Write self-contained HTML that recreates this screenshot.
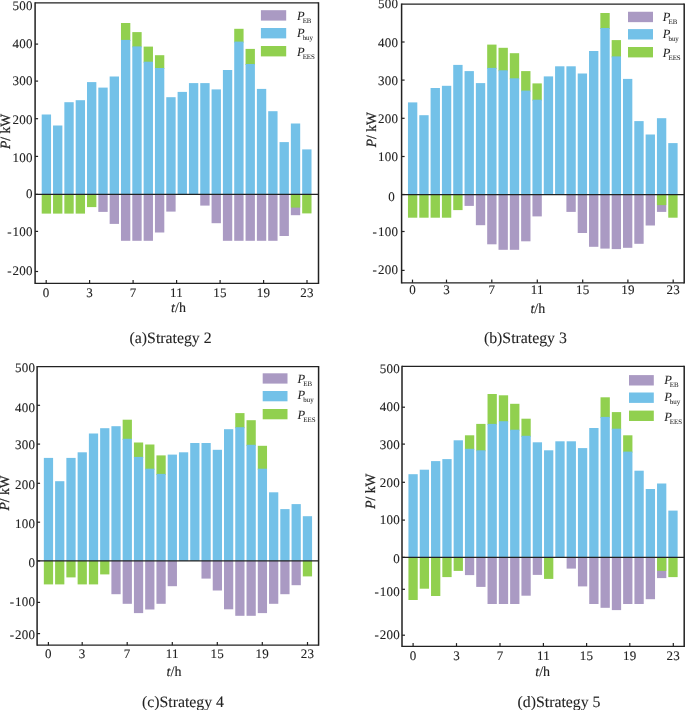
<!DOCTYPE html>
<html lang="en"><head><meta charset="utf-8"><title>Strategies 2-5 power balance</title>
<style>
html,body{margin:0;padding:0;background:#fff;}
body{width:685px;height:710px;overflow:hidden;}
svg{display:block;}
text{font-family:"Liberation Serif",serif;fill:#222;text-rendering:geometricPrecision;stroke:#222;stroke-width:0.1px;}
.tk{font-size:13px;letter-spacing:0.25px;}
.yl{font-size:13.6px;stroke-width:0.25px;}
.xl{font-size:14px;}
.cap{font-size:15.8px;stroke-width:0.08px;}
.lg{font-size:12.5px;stroke-width:0.05px;}
.sub{font-size:6.9px;}
</style></head><body>
<svg width="685" height="710" viewBox="0 0 685 710">
<rect x="0" y="0" width="685" height="710" fill="#fff"/>
<g class="chart-a">
<rect x="41.7" y="114.5" width="9.35" height="79.9" fill="#73c1e8"/>
<rect x="41.7" y="194.4" width="9.35" height="19.2" fill="#91d04f"/>
<rect x="53.03" y="125.5" width="9.35" height="68.9" fill="#73c1e8"/>
<rect x="53.03" y="194.4" width="9.35" height="19.2" fill="#91d04f"/>
<rect x="64.35" y="102.2" width="9.35" height="92.2" fill="#73c1e8"/>
<rect x="64.35" y="194.4" width="9.35" height="19.2" fill="#91d04f"/>
<rect x="75.67" y="100.2" width="9.35" height="94.2" fill="#73c1e8"/>
<rect x="75.67" y="194.4" width="9.35" height="19.2" fill="#91d04f"/>
<rect x="87" y="82.1" width="9.35" height="112.3" fill="#73c1e8"/>
<rect x="87" y="194.4" width="9.35" height="12.7" fill="#91d04f"/>
<rect x="98.33" y="87.6" width="9.35" height="106.8" fill="#73c1e8"/>
<rect x="98.33" y="194.4" width="9.35" height="17.5" fill="#aa9ac3"/>
<rect x="109.65" y="76.5" width="9.35" height="117.9" fill="#73c1e8"/>
<rect x="109.65" y="194.4" width="9.35" height="29.5" fill="#aa9ac3"/>
<rect x="120.97" y="23" width="9.35" height="17.9" fill="#91d04f"/>
<rect x="120.97" y="39.9" width="9.35" height="154.5" fill="#73c1e8"/>
<rect x="120.97" y="194.4" width="9.35" height="46.4" fill="#aa9ac3"/>
<rect x="132.3" y="32.1" width="9.35" height="15.3" fill="#91d04f"/>
<rect x="132.3" y="46.4" width="9.35" height="148" fill="#73c1e8"/>
<rect x="132.3" y="194.4" width="9.35" height="46.4" fill="#aa9ac3"/>
<rect x="143.62" y="46.6" width="9.35" height="16.1" fill="#91d04f"/>
<rect x="143.62" y="61.7" width="9.35" height="132.7" fill="#73c1e8"/>
<rect x="143.62" y="194.4" width="9.35" height="46.4" fill="#aa9ac3"/>
<rect x="154.95" y="55.2" width="9.35" height="13.8" fill="#91d04f"/>
<rect x="154.95" y="68" width="9.35" height="126.4" fill="#73c1e8"/>
<rect x="154.95" y="194.4" width="9.35" height="38.1" fill="#aa9ac3"/>
<rect x="166.27" y="97.2" width="9.35" height="97.2" fill="#73c1e8"/>
<rect x="166.27" y="194.4" width="9.35" height="17.2" fill="#aa9ac3"/>
<rect x="177.6" y="91.9" width="9.35" height="102.5" fill="#73c1e8"/>
<rect x="188.93" y="83.1" width="9.35" height="111.3" fill="#73c1e8"/>
<rect x="200.25" y="83.1" width="9.35" height="111.3" fill="#73c1e8"/>
<rect x="200.25" y="194.4" width="9.35" height="11.2" fill="#aa9ac3"/>
<rect x="211.57" y="89.4" width="9.35" height="105" fill="#73c1e8"/>
<rect x="211.57" y="194.4" width="9.35" height="28.8" fill="#aa9ac3"/>
<rect x="222.9" y="70" width="9.35" height="124.4" fill="#73c1e8"/>
<rect x="222.9" y="194.4" width="9.35" height="46.4" fill="#aa9ac3"/>
<rect x="234.22" y="28.8" width="9.35" height="13.8" fill="#91d04f"/>
<rect x="234.22" y="41.6" width="9.35" height="152.8" fill="#73c1e8"/>
<rect x="234.22" y="194.4" width="9.35" height="46.4" fill="#aa9ac3"/>
<rect x="245.55" y="48.9" width="9.35" height="16.1" fill="#91d04f"/>
<rect x="245.55" y="64" width="9.35" height="130.4" fill="#73c1e8"/>
<rect x="245.55" y="194.4" width="9.35" height="46.4" fill="#aa9ac3"/>
<rect x="256.88" y="88.9" width="9.35" height="105.5" fill="#73c1e8"/>
<rect x="256.88" y="194.4" width="9.35" height="46.4" fill="#aa9ac3"/>
<rect x="268.2" y="111.2" width="9.35" height="83.2" fill="#73c1e8"/>
<rect x="268.2" y="194.4" width="9.35" height="46.4" fill="#aa9ac3"/>
<rect x="279.52" y="142.1" width="9.35" height="52.3" fill="#73c1e8"/>
<rect x="279.52" y="194.4" width="9.35" height="41.6" fill="#aa9ac3"/>
<rect x="290.85" y="123.5" width="9.35" height="70.9" fill="#73c1e8"/>
<rect x="290.85" y="194.4" width="9.35" height="20.8" fill="#aa9ac3"/>
<rect x="290.85" y="194.4" width="9.35" height="13.2" fill="#91d04f"/>
<rect x="302.17" y="149.4" width="9.35" height="45" fill="#73c1e8"/>
<rect x="302.17" y="194.4" width="9.35" height="19" fill="#91d04f"/>
<path d="M35.1 2.17V283.93M318.5 2.17V283.93" fill="none" stroke="#222" stroke-width="1.5"/>
<path d="M35.1 2.8H318.5M35.1 283.3H318.5M35.1 194.4H318.5" fill="none" stroke="#222" stroke-width="1.25"/>
<line x1="35.1" y1="44.1" x2="38.1" y2="44.1" stroke="#222" stroke-width="1.2"/>
<line x1="35.1" y1="81.1" x2="38.1" y2="81.1" stroke="#222" stroke-width="1.2"/>
<line x1="35.1" y1="118.7" x2="38.1" y2="118.7" stroke="#222" stroke-width="1.2"/>
<line x1="35.1" y1="156.4" x2="38.1" y2="156.4" stroke="#222" stroke-width="1.2"/>
<line x1="35.1" y1="194.4" x2="38.1" y2="194.4" stroke="#222" stroke-width="1.2"/>
<line x1="35.1" y1="231.4" x2="38.1" y2="231.4" stroke="#222" stroke-width="1.2"/>
<line x1="35.1" y1="271.5" x2="38.1" y2="271.5" stroke="#222" stroke-width="1.2"/>
<text class="tk" x="32.85" y="9.7" text-anchor="end">500</text>
<text class="tk" x="32.85" y="47.6" text-anchor="end">400</text>
<text class="tk" x="32.85" y="85.2" text-anchor="end">300</text>
<text class="tk" x="32.85" y="123.8" text-anchor="end">200</text>
<text class="tk" x="32.85" y="161.8" text-anchor="end">100</text>
<text class="tk" x="32.85" y="198.4" text-anchor="end">0</text>
<text class="tk" x="32.85" y="235.8" text-anchor="end">-<tspan dx="0.7">100</tspan></text>
<text class="tk" x="32.85" y="275.3" text-anchor="end">-<tspan dx="0.7">200</tspan></text>
<line x1="46.2" y1="283.3" x2="46.2" y2="280.1" stroke="#222" stroke-width="1.2"/>
<text class="tk" x="46.2" y="296.5" text-anchor="middle">0</text>
<line x1="89.6" y1="283.3" x2="89.6" y2="280.1" stroke="#222" stroke-width="1.2"/>
<text class="tk" x="89.6" y="296.5" text-anchor="middle">3</text>
<line x1="133.1" y1="283.3" x2="133.1" y2="280.1" stroke="#222" stroke-width="1.2"/>
<text class="tk" x="133.1" y="296.5" text-anchor="middle">7</text>
<line x1="176.6" y1="283.3" x2="176.6" y2="280.1" stroke="#222" stroke-width="1.2"/>
<text class="tk" x="176.6" y="296.5" text-anchor="middle">11</text>
<line x1="220.1" y1="283.3" x2="220.1" y2="280.1" stroke="#222" stroke-width="1.2"/>
<text class="tk" x="220.1" y="296.5" text-anchor="middle">15</text>
<line x1="263.6" y1="283.3" x2="263.6" y2="280.1" stroke="#222" stroke-width="1.2"/>
<text class="tk" x="263.6" y="296.5" text-anchor="middle">19</text>
<line x1="307" y1="283.3" x2="307" y2="280.1" stroke="#222" stroke-width="1.2"/>
<text class="tk" x="307" y="296.5" text-anchor="middle">23</text>
<text class="yl" transform="translate(9.5,131.5) rotate(-90) scale(1,1.04)" text-anchor="middle"><tspan font-style="italic">P</tspan>/ kW</text>
<text class="xl" x="178.5" y="312.4" text-anchor="middle"><tspan font-style="italic">t</tspan>/h</text>
<text class="cap" x="170.6" y="343.4" text-anchor="middle">(a)Strategy 2</text>
<rect x="260.9" y="10.2" width="25.3" height="10.4" fill="#aa9ac3"/>
<text class="lg" x="297" y="20"><tspan font-style="italic">P</tspan><tspan class="sub" dx="-2.0" dy="3">EB</tspan></text>
<rect x="260.9" y="28" width="25.3" height="10.4" fill="#73c1e8"/>
<text class="lg" x="297" y="36.6"><tspan font-style="italic">P</tspan><tspan class="sub" dx="-2.0" dy="3">buy</tspan></text>
<rect x="260.9" y="46" width="25.3" height="10.4" fill="#91d04f"/>
<text class="lg" x="297" y="55.8"><tspan font-style="italic">P</tspan><tspan class="sub" dx="-2.0" dy="3">EES</tspan></text>
</g>
<g class="chart-b">
<rect x="407.96" y="102.4" width="9.35" height="92.1" fill="#73c1e8"/>
<rect x="407.96" y="194.5" width="9.35" height="23.2" fill="#91d04f"/>
<rect x="419.28" y="115.2" width="9.35" height="79.3" fill="#73c1e8"/>
<rect x="419.28" y="194.5" width="9.35" height="23.2" fill="#91d04f"/>
<rect x="430.59" y="88" width="9.35" height="106.5" fill="#73c1e8"/>
<rect x="430.59" y="194.5" width="9.35" height="23.2" fill="#91d04f"/>
<rect x="441.91" y="85.8" width="9.35" height="108.7" fill="#73c1e8"/>
<rect x="441.91" y="194.5" width="9.35" height="23.2" fill="#91d04f"/>
<rect x="453.23" y="64.9" width="9.35" height="129.6" fill="#73c1e8"/>
<rect x="453.23" y="194.5" width="9.35" height="15.6" fill="#91d04f"/>
<rect x="464.54" y="71.1" width="9.35" height="123.4" fill="#73c1e8"/>
<rect x="464.54" y="194.5" width="9.35" height="11.4" fill="#aa9ac3"/>
<rect x="475.86" y="83.1" width="9.35" height="111.4" fill="#73c1e8"/>
<rect x="475.86" y="194.5" width="9.35" height="30.7" fill="#aa9ac3"/>
<rect x="487.18" y="44.6" width="9.35" height="24.3" fill="#91d04f"/>
<rect x="487.18" y="67.9" width="9.35" height="126.6" fill="#73c1e8"/>
<rect x="487.18" y="194.5" width="9.35" height="49.8" fill="#aa9ac3"/>
<rect x="498.5" y="47.8" width="9.35" height="23.5" fill="#91d04f"/>
<rect x="498.5" y="70.3" width="9.35" height="124.2" fill="#73c1e8"/>
<rect x="498.5" y="194.5" width="9.35" height="55.3" fill="#aa9ac3"/>
<rect x="509.81" y="53.2" width="9.35" height="26.1" fill="#91d04f"/>
<rect x="509.81" y="78.3" width="9.35" height="116.2" fill="#73c1e8"/>
<rect x="509.81" y="194.5" width="9.35" height="55.3" fill="#aa9ac3"/>
<rect x="521.13" y="71.1" width="9.35" height="20.5" fill="#91d04f"/>
<rect x="521.13" y="90.6" width="9.35" height="103.9" fill="#73c1e8"/>
<rect x="521.13" y="194.5" width="9.35" height="46.8" fill="#aa9ac3"/>
<rect x="532.45" y="83.4" width="9.35" height="17.3" fill="#91d04f"/>
<rect x="532.45" y="99.7" width="9.35" height="94.8" fill="#73c1e8"/>
<rect x="532.45" y="194.5" width="9.35" height="21.9" fill="#aa9ac3"/>
<rect x="543.76" y="76.4" width="9.35" height="118.1" fill="#73c1e8"/>
<rect x="555.08" y="66.3" width="9.35" height="128.2" fill="#73c1e8"/>
<rect x="566.4" y="66.3" width="9.35" height="128.2" fill="#73c1e8"/>
<rect x="566.4" y="194.5" width="9.35" height="17.4" fill="#aa9ac3"/>
<rect x="577.71" y="73.5" width="9.35" height="121" fill="#73c1e8"/>
<rect x="577.71" y="194.5" width="9.35" height="38.5" fill="#aa9ac3"/>
<rect x="589.03" y="51" width="9.35" height="143.5" fill="#73c1e8"/>
<rect x="589.03" y="194.5" width="9.35" height="52.3" fill="#aa9ac3"/>
<rect x="600.35" y="13" width="9.35" height="16" fill="#91d04f"/>
<rect x="600.35" y="28" width="9.35" height="166.5" fill="#73c1e8"/>
<rect x="600.35" y="194.5" width="9.35" height="54.1" fill="#aa9ac3"/>
<rect x="611.67" y="40.1" width="9.35" height="17.3" fill="#91d04f"/>
<rect x="611.67" y="56.4" width="9.35" height="138.1" fill="#73c1e8"/>
<rect x="611.67" y="194.5" width="9.35" height="54.6" fill="#aa9ac3"/>
<rect x="622.98" y="78.9" width="9.35" height="115.6" fill="#73c1e8"/>
<rect x="622.98" y="194.5" width="9.35" height="53.3" fill="#aa9ac3"/>
<rect x="634.3" y="121.1" width="9.35" height="73.4" fill="#73c1e8"/>
<rect x="634.3" y="194.5" width="9.35" height="49.3" fill="#aa9ac3"/>
<rect x="645.62" y="134.5" width="9.35" height="60" fill="#73c1e8"/>
<rect x="645.62" y="194.5" width="9.35" height="31" fill="#aa9ac3"/>
<rect x="656.93" y="118.2" width="9.35" height="76.3" fill="#73c1e8"/>
<rect x="656.93" y="194.5" width="9.35" height="17.4" fill="#aa9ac3"/>
<rect x="656.93" y="194.5" width="9.35" height="10.6" fill="#91d04f"/>
<rect x="668.25" y="143.1" width="9.35" height="51.4" fill="#73c1e8"/>
<rect x="668.25" y="194.5" width="9.35" height="23.2" fill="#91d04f"/>
<path d="M401.6 3.38V283.43M684.2 3.38V283.43" fill="none" stroke="#222" stroke-width="1.5"/>
<path d="M401.6 4H684.2M401.6 282.8H684.2M401.6 194.5H684.2" fill="none" stroke="#222" stroke-width="1.25"/>
<line x1="401.6" y1="42" x2="404.6" y2="42" stroke="#222" stroke-width="1.2"/>
<line x1="401.6" y1="80.1" x2="404.6" y2="80.1" stroke="#222" stroke-width="1.2"/>
<line x1="401.6" y1="118.3" x2="404.6" y2="118.3" stroke="#222" stroke-width="1.2"/>
<line x1="401.6" y1="156.5" x2="404.6" y2="156.5" stroke="#222" stroke-width="1.2"/>
<line x1="401.6" y1="194.5" x2="404.6" y2="194.5" stroke="#222" stroke-width="1.2"/>
<line x1="401.6" y1="231.5" x2="404.6" y2="231.5" stroke="#222" stroke-width="1.2"/>
<line x1="401.6" y1="270.4" x2="404.6" y2="270.4" stroke="#222" stroke-width="1.2"/>
<text class="tk" x="398.15" y="8.4" text-anchor="end">500</text>
<text class="tk" x="398.15" y="47.2" text-anchor="end">400</text>
<text class="tk" x="398.15" y="85.3" text-anchor="end">300</text>
<text class="tk" x="398.15" y="123.3" text-anchor="end">200</text>
<text class="tk" x="398.15" y="161" text-anchor="end">100</text>
<text class="tk" x="395.05" y="200.7" text-anchor="end">0</text>
<text class="tk" x="398.15" y="236.3" text-anchor="end">-<tspan dx="0.7">100</tspan></text>
<text class="tk" x="398.15" y="274.1" text-anchor="end">-<tspan dx="0.7">200</tspan></text>
<line x1="412.5" y1="282.8" x2="412.5" y2="279.6" stroke="#222" stroke-width="1.2"/>
<text class="tk" x="412.5" y="293.8" text-anchor="middle">0</text>
<line x1="446.5" y1="282.8" x2="446.5" y2="279.6" stroke="#222" stroke-width="1.2"/>
<text class="tk" x="446.5" y="293.8" text-anchor="middle">3</text>
<line x1="491.8" y1="282.8" x2="491.8" y2="279.6" stroke="#222" stroke-width="1.2"/>
<text class="tk" x="491.8" y="293.8" text-anchor="middle">7</text>
<line x1="537.3" y1="282.8" x2="537.3" y2="279.6" stroke="#222" stroke-width="1.2"/>
<text class="tk" x="537.3" y="293.8" text-anchor="middle">11</text>
<line x1="582.7" y1="282.8" x2="582.7" y2="279.6" stroke="#222" stroke-width="1.2"/>
<text class="tk" x="582.7" y="293.8" text-anchor="middle">15</text>
<line x1="627.9" y1="282.8" x2="627.9" y2="279.6" stroke="#222" stroke-width="1.2"/>
<text class="tk" x="627.9" y="293.8" text-anchor="middle">19</text>
<line x1="673.2" y1="282.8" x2="673.2" y2="279.6" stroke="#222" stroke-width="1.2"/>
<text class="tk" x="673.2" y="293.8" text-anchor="middle">23</text>
<text class="yl" transform="translate(376,129.8) rotate(-90) scale(1,1.04)" text-anchor="middle"><tspan font-style="italic">P</tspan>/ kW</text>
<text class="xl" x="537.8" y="312.8" text-anchor="middle"><tspan font-style="italic">t</tspan>/h</text>
<text class="cap" x="525.4" y="343.4" text-anchor="middle">(b)Strategy 3</text>
<rect x="628" y="11.75" width="25" height="10.4" fill="#aa9ac3"/>
<text class="lg" x="662.8" y="21.25"><tspan font-style="italic">P</tspan><tspan class="sub" dx="-2.0" dy="3">EB</tspan></text>
<rect x="628" y="29.1" width="25" height="10.4" fill="#73c1e8"/>
<text class="lg" x="662.8" y="37.8"><tspan font-style="italic">P</tspan><tspan class="sub" dx="-2.0" dy="3">buy</tspan></text>
<rect x="628" y="47" width="25" height="10.4" fill="#91d04f"/>
<text class="lg" x="662.8" y="57"><tspan font-style="italic">P</tspan><tspan class="sub" dx="-2.0" dy="3">EES</tspan></text>
</g>
<g class="chart-c">
<rect x="43.84" y="457.9" width="9.25" height="103" fill="#73c1e8"/>
<rect x="43.84" y="560.9" width="9.25" height="23.5" fill="#91d04f"/>
<rect x="55.1" y="481.2" width="9.25" height="79.7" fill="#73c1e8"/>
<rect x="55.1" y="560.9" width="9.25" height="23.5" fill="#91d04f"/>
<rect x="66.36" y="457.9" width="9.25" height="103" fill="#73c1e8"/>
<rect x="66.36" y="560.9" width="9.25" height="16.5" fill="#91d04f"/>
<rect x="77.62" y="452.3" width="9.25" height="108.6" fill="#73c1e8"/>
<rect x="77.62" y="560.9" width="9.25" height="23.5" fill="#91d04f"/>
<rect x="88.88" y="433.5" width="9.25" height="127.4" fill="#73c1e8"/>
<rect x="88.88" y="560.9" width="9.25" height="23.5" fill="#91d04f"/>
<rect x="100.14" y="428.2" width="9.25" height="132.7" fill="#73c1e8"/>
<rect x="100.14" y="560.9" width="9.25" height="13.5" fill="#91d04f"/>
<rect x="111.4" y="426.2" width="9.25" height="134.7" fill="#73c1e8"/>
<rect x="111.4" y="560.9" width="9.25" height="33.3" fill="#aa9ac3"/>
<rect x="122.66" y="419.7" width="9.25" height="20.1" fill="#91d04f"/>
<rect x="122.66" y="438.8" width="9.25" height="122.1" fill="#73c1e8"/>
<rect x="122.66" y="560.9" width="9.25" height="42.9" fill="#aa9ac3"/>
<rect x="133.92" y="442.5" width="9.25" height="15.4" fill="#91d04f"/>
<rect x="133.92" y="456.9" width="9.25" height="104" fill="#73c1e8"/>
<rect x="133.92" y="560.9" width="9.25" height="52.2" fill="#aa9ac3"/>
<rect x="145.18" y="444.5" width="9.25" height="25.2" fill="#91d04f"/>
<rect x="145.18" y="468.7" width="9.25" height="92.2" fill="#73c1e8"/>
<rect x="145.18" y="560.9" width="9.25" height="48.6" fill="#aa9ac3"/>
<rect x="156.44" y="455.4" width="9.25" height="19.5" fill="#91d04f"/>
<rect x="156.44" y="473.9" width="9.25" height="87" fill="#73c1e8"/>
<rect x="156.44" y="560.9" width="9.25" height="42.9" fill="#aa9ac3"/>
<rect x="167.7" y="454.6" width="9.25" height="106.3" fill="#73c1e8"/>
<rect x="167.7" y="560.9" width="9.25" height="25.3" fill="#aa9ac3"/>
<rect x="178.96" y="452.3" width="9.25" height="108.6" fill="#73c1e8"/>
<rect x="190.22" y="443" width="9.25" height="117.9" fill="#73c1e8"/>
<rect x="201.48" y="443" width="9.25" height="117.9" fill="#73c1e8"/>
<rect x="201.48" y="560.9" width="9.25" height="17.7" fill="#aa9ac3"/>
<rect x="212.74" y="449.8" width="9.25" height="111.1" fill="#73c1e8"/>
<rect x="212.74" y="560.9" width="9.25" height="29.6" fill="#aa9ac3"/>
<rect x="224" y="429.2" width="9.25" height="131.7" fill="#73c1e8"/>
<rect x="224" y="560.9" width="9.25" height="48.4" fill="#aa9ac3"/>
<rect x="235.26" y="413.1" width="9.25" height="15.1" fill="#91d04f"/>
<rect x="235.26" y="427.2" width="9.25" height="133.7" fill="#73c1e8"/>
<rect x="235.26" y="560.9" width="9.25" height="54.9" fill="#aa9ac3"/>
<rect x="246.52" y="420.2" width="9.25" height="25.6" fill="#91d04f"/>
<rect x="246.52" y="444.8" width="9.25" height="116.1" fill="#73c1e8"/>
<rect x="246.52" y="560.9" width="9.25" height="54.9" fill="#aa9ac3"/>
<rect x="257.78" y="445.8" width="9.25" height="23.9" fill="#91d04f"/>
<rect x="257.78" y="468.7" width="9.25" height="92.2" fill="#73c1e8"/>
<rect x="257.78" y="560.9" width="9.25" height="52.2" fill="#aa9ac3"/>
<rect x="269.04" y="492.3" width="9.25" height="68.6" fill="#73c1e8"/>
<rect x="269.04" y="560.9" width="9.25" height="42.9" fill="#aa9ac3"/>
<rect x="280.3" y="509.1" width="9.25" height="51.8" fill="#73c1e8"/>
<rect x="280.3" y="560.9" width="9.25" height="33.3" fill="#aa9ac3"/>
<rect x="291.56" y="504.1" width="9.25" height="56.8" fill="#73c1e8"/>
<rect x="291.56" y="560.9" width="9.25" height="24.3" fill="#aa9ac3"/>
<rect x="302.82" y="516.2" width="9.25" height="44.7" fill="#73c1e8"/>
<rect x="302.82" y="560.9" width="9.25" height="15.5" fill="#91d04f"/>
<path d="M37.1 365.98V645.83M318.6 365.98V645.83" fill="none" stroke="#222" stroke-width="1.5"/>
<path d="M37.1 366.6H318.6M37.1 645.2H318.6M37.1 560.9H318.6" fill="none" stroke="#222" stroke-width="1.25"/>
<line x1="37.1" y1="405.3" x2="40.1" y2="405.3" stroke="#222" stroke-width="1.2"/>
<line x1="37.1" y1="444.1" x2="40.1" y2="444.1" stroke="#222" stroke-width="1.2"/>
<line x1="37.1" y1="483.3" x2="40.1" y2="483.3" stroke="#222" stroke-width="1.2"/>
<line x1="37.1" y1="522.2" x2="40.1" y2="522.2" stroke="#222" stroke-width="1.2"/>
<line x1="37.1" y1="560.9" x2="40.1" y2="560.9" stroke="#222" stroke-width="1.2"/>
<line x1="37.1" y1="602.4" x2="40.1" y2="602.4" stroke="#222" stroke-width="1.2"/>
<line x1="37.1" y1="633.6" x2="40.1" y2="633.6" stroke="#222" stroke-width="1.2"/>
<text class="tk" x="35.35" y="372.4" text-anchor="end">500</text>
<text class="tk" x="35.35" y="411.6" text-anchor="end">400</text>
<text class="tk" x="35.35" y="449.4" text-anchor="end">300</text>
<text class="tk" x="35.35" y="489.1" text-anchor="end">200</text>
<text class="tk" x="35.35" y="528" text-anchor="end">100</text>
<text class="tk" x="35.35" y="567.1" text-anchor="end">0</text>
<text class="tk" x="35.35" y="605.9" text-anchor="end">-<tspan dx="0.7">100</tspan></text>
<text class="tk" x="35.35" y="639" text-anchor="end">-<tspan dx="0.7">200</tspan></text>
<line x1="48.4" y1="645.2" x2="48.4" y2="642" stroke="#222" stroke-width="1.2"/>
<text class="tk" x="48.4" y="657.8" text-anchor="middle">0</text>
<line x1="82.2" y1="645.2" x2="82.2" y2="642" stroke="#222" stroke-width="1.2"/>
<text class="tk" x="82.2" y="657.8" text-anchor="middle">3</text>
<line x1="127.2" y1="645.2" x2="127.2" y2="642" stroke="#222" stroke-width="1.2"/>
<text class="tk" x="127.2" y="657.8" text-anchor="middle">7</text>
<line x1="172.3" y1="645.2" x2="172.3" y2="642" stroke="#222" stroke-width="1.2"/>
<text class="tk" x="172.3" y="657.8" text-anchor="middle">11</text>
<line x1="217.3" y1="645.2" x2="217.3" y2="642" stroke="#222" stroke-width="1.2"/>
<text class="tk" x="217.3" y="657.8" text-anchor="middle">15</text>
<line x1="262.3" y1="645.2" x2="262.3" y2="642" stroke="#222" stroke-width="1.2"/>
<text class="tk" x="262.3" y="657.8" text-anchor="middle">19</text>
<line x1="307.5" y1="645.2" x2="307.5" y2="642" stroke="#222" stroke-width="1.2"/>
<text class="tk" x="307.5" y="657.8" text-anchor="middle">23</text>
<text class="yl" transform="translate(9.4,493) rotate(-90) scale(1,1.04)" text-anchor="middle"><tspan font-style="italic">P</tspan>/ kW</text>
<text class="xl" x="174" y="675.6" text-anchor="middle"><tspan font-style="italic">t</tspan>/h</text>
<text class="cap" x="183" y="706.6" text-anchor="middle">(c)Strategy 4</text>
<rect x="262.7" y="373.3" width="24.8" height="10.3" fill="#aa9ac3"/>
<text class="lg" x="297.6" y="382.9"><tspan font-style="italic">P</tspan><tspan class="sub" dx="-2.0" dy="3">EB</tspan></text>
<rect x="262.7" y="391" width="24.8" height="10.3" fill="#73c1e8"/>
<text class="lg" x="297.6" y="399.4"><tspan font-style="italic">P</tspan><tspan class="sub" dx="-2.0" dy="3">buy</tspan></text>
<rect x="262.7" y="409" width="24.8" height="10.3" fill="#91d04f"/>
<text class="lg" x="297.6" y="418.6"><tspan font-style="italic">P</tspan><tspan class="sub" dx="-2.0" dy="3">EES</tspan></text>
</g>
<g class="chart-d">
<rect x="408.43" y="474.2" width="9.3" height="83.2" fill="#73c1e8"/>
<rect x="408.43" y="557.4" width="9.3" height="42.6" fill="#91d04f"/>
<rect x="419.73" y="469.7" width="9.3" height="87.7" fill="#73c1e8"/>
<rect x="419.73" y="557.4" width="9.3" height="31.3" fill="#91d04f"/>
<rect x="431.03" y="461.1" width="9.3" height="96.3" fill="#73c1e8"/>
<rect x="431.03" y="557.4" width="9.3" height="38.6" fill="#91d04f"/>
<rect x="442.33" y="459.1" width="9.3" height="98.3" fill="#73c1e8"/>
<rect x="442.33" y="557.4" width="9.3" height="19.7" fill="#91d04f"/>
<rect x="453.63" y="440.3" width="9.3" height="117.1" fill="#73c1e8"/>
<rect x="453.63" y="557.4" width="9.3" height="13.5" fill="#91d04f"/>
<rect x="464.93" y="435.3" width="9.3" height="14.5" fill="#91d04f"/>
<rect x="464.93" y="448.8" width="9.3" height="108.6" fill="#73c1e8"/>
<rect x="464.93" y="557.4" width="9.3" height="17.7" fill="#aa9ac3"/>
<rect x="476.23" y="423.9" width="9.3" height="27.4" fill="#91d04f"/>
<rect x="476.23" y="450.3" width="9.3" height="107.1" fill="#73c1e8"/>
<rect x="476.23" y="557.4" width="9.3" height="29.5" fill="#aa9ac3"/>
<rect x="487.53" y="394" width="9.3" height="30.9" fill="#91d04f"/>
<rect x="487.53" y="423.9" width="9.3" height="133.5" fill="#73c1e8"/>
<rect x="487.53" y="557.4" width="9.3" height="46.6" fill="#aa9ac3"/>
<rect x="498.83" y="395.3" width="9.3" height="26.9" fill="#91d04f"/>
<rect x="498.83" y="421.2" width="9.3" height="136.2" fill="#73c1e8"/>
<rect x="498.83" y="557.4" width="9.3" height="46.6" fill="#aa9ac3"/>
<rect x="510.13" y="403.8" width="9.3" height="26.9" fill="#91d04f"/>
<rect x="510.13" y="429.7" width="9.3" height="127.7" fill="#73c1e8"/>
<rect x="510.13" y="557.4" width="9.3" height="46.6" fill="#aa9ac3"/>
<rect x="521.43" y="418.7" width="9.3" height="18.1" fill="#91d04f"/>
<rect x="521.43" y="435.8" width="9.3" height="121.6" fill="#73c1e8"/>
<rect x="521.43" y="557.4" width="9.3" height="38.3" fill="#aa9ac3"/>
<rect x="532.73" y="442.3" width="9.3" height="115.1" fill="#73c1e8"/>
<rect x="532.73" y="557.4" width="9.3" height="17.5" fill="#aa9ac3"/>
<rect x="544.03" y="450.3" width="9.3" height="107.1" fill="#73c1e8"/>
<rect x="544.03" y="557.4" width="9.3" height="21.5" fill="#91d04f"/>
<rect x="555.33" y="441.3" width="9.3" height="116.1" fill="#73c1e8"/>
<rect x="566.63" y="441.3" width="9.3" height="116.1" fill="#73c1e8"/>
<rect x="566.63" y="557.4" width="9.3" height="11.2" fill="#aa9ac3"/>
<rect x="577.93" y="448.1" width="9.3" height="109.3" fill="#73c1e8"/>
<rect x="577.93" y="557.4" width="9.3" height="29" fill="#aa9ac3"/>
<rect x="589.23" y="428" width="9.3" height="129.4" fill="#73c1e8"/>
<rect x="589.23" y="557.4" width="9.3" height="46.6" fill="#aa9ac3"/>
<rect x="600.53" y="397.3" width="9.3" height="20.6" fill="#91d04f"/>
<rect x="600.53" y="416.9" width="9.3" height="140.5" fill="#73c1e8"/>
<rect x="600.53" y="557.4" width="9.3" height="50.4" fill="#aa9ac3"/>
<rect x="611.83" y="412.1" width="9.3" height="17.6" fill="#91d04f"/>
<rect x="611.83" y="428.7" width="9.3" height="128.7" fill="#73c1e8"/>
<rect x="611.83" y="557.4" width="9.3" height="52.7" fill="#aa9ac3"/>
<rect x="623.13" y="435.3" width="9.3" height="17.3" fill="#91d04f"/>
<rect x="623.13" y="451.6" width="9.3" height="105.8" fill="#73c1e8"/>
<rect x="623.13" y="557.4" width="9.3" height="46.6" fill="#aa9ac3"/>
<rect x="634.43" y="470.7" width="9.3" height="86.7" fill="#73c1e8"/>
<rect x="634.43" y="557.4" width="9.3" height="46.6" fill="#aa9ac3"/>
<rect x="645.73" y="489" width="9.3" height="68.4" fill="#73c1e8"/>
<rect x="645.73" y="557.4" width="9.3" height="41.8" fill="#aa9ac3"/>
<rect x="657.03" y="483.5" width="9.3" height="73.9" fill="#73c1e8"/>
<rect x="657.03" y="557.4" width="9.3" height="20.7" fill="#aa9ac3"/>
<rect x="657.03" y="557.4" width="9.3" height="13.5" fill="#91d04f"/>
<rect x="668.33" y="510.6" width="9.3" height="46.8" fill="#73c1e8"/>
<rect x="668.33" y="557.4" width="9.3" height="19.7" fill="#91d04f"/>
<path d="M402 365.68V646.92M684.2 365.68V646.92" fill="none" stroke="#222" stroke-width="1.5"/>
<path d="M402 366.3H684.2M402 646.3H684.2M402 557.4H684.2" fill="none" stroke="#222" stroke-width="1.25"/>
<line x1="402" y1="407.2" x2="405" y2="407.2" stroke="#222" stroke-width="1.2"/>
<line x1="402" y1="444.1" x2="405" y2="444.1" stroke="#222" stroke-width="1.2"/>
<line x1="402" y1="482.3" x2="405" y2="482.3" stroke="#222" stroke-width="1.2"/>
<line x1="402" y1="520.1" x2="405" y2="520.1" stroke="#222" stroke-width="1.2"/>
<line x1="402" y1="557.4" x2="405" y2="557.4" stroke="#222" stroke-width="1.2"/>
<line x1="402" y1="589.3" x2="405" y2="589.3" stroke="#222" stroke-width="1.2"/>
<line x1="402" y1="635.2" x2="405" y2="635.2" stroke="#222" stroke-width="1.2"/>
<text class="tk" x="400.05" y="373" text-anchor="end">500</text>
<text class="tk" x="400.05" y="411.3" text-anchor="end">400</text>
<text class="tk" x="400.05" y="449.1" text-anchor="end">300</text>
<text class="tk" x="400.05" y="487.3" text-anchor="end">200</text>
<text class="tk" x="400.05" y="524.3" text-anchor="end">100</text>
<text class="tk" x="400.05" y="562.5" text-anchor="end">0</text>
<text class="tk" x="400.05" y="596" text-anchor="end">-<tspan dx="0.7">100</tspan></text>
<text class="tk" x="400.05" y="638.9" text-anchor="end">-<tspan dx="0.7">200</tspan></text>
<line x1="413.1" y1="646.3" x2="413.1" y2="643.1" stroke="#222" stroke-width="1.2"/>
<text class="tk" x="413.1" y="659.7" text-anchor="middle">0</text>
<line x1="456.5" y1="646.3" x2="456.5" y2="643.1" stroke="#222" stroke-width="1.2"/>
<text class="tk" x="456.5" y="659.7" text-anchor="middle">3</text>
<line x1="500" y1="646.3" x2="500" y2="643.1" stroke="#222" stroke-width="1.2"/>
<text class="tk" x="500" y="659.7" text-anchor="middle">7</text>
<line x1="543.4" y1="646.3" x2="543.4" y2="643.1" stroke="#222" stroke-width="1.2"/>
<text class="tk" x="543.4" y="659.7" text-anchor="middle">11</text>
<line x1="586.6" y1="646.3" x2="586.6" y2="643.1" stroke="#222" stroke-width="1.2"/>
<text class="tk" x="586.6" y="659.7" text-anchor="middle">15</text>
<line x1="629.8" y1="646.3" x2="629.8" y2="643.1" stroke="#222" stroke-width="1.2"/>
<text class="tk" x="629.8" y="659.7" text-anchor="middle">19</text>
<line x1="673.3" y1="646.3" x2="673.3" y2="643.1" stroke="#222" stroke-width="1.2"/>
<text class="tk" x="673.3" y="659.7" text-anchor="middle">23</text>
<text class="yl" transform="translate(375.3,491.3) rotate(-90) scale(1,1.04)" text-anchor="middle"><tspan font-style="italic">P</tspan>/ kW</text>
<text class="xl" x="542.7" y="675.6" text-anchor="middle"><tspan font-style="italic">t</tspan>/h</text>
<text class="cap" x="559" y="706.6" text-anchor="middle">(d)Strategy 5</text>
<rect x="629" y="375.1" width="24.8" height="10.4" fill="#aa9ac3"/>
<text class="lg" x="664.2" y="384.1"><tspan font-style="italic">P</tspan><tspan class="sub" dx="-2.0" dy="3">EB</tspan></text>
<rect x="629" y="392.5" width="24.8" height="10.4" fill="#73c1e8"/>
<text class="lg" x="664.2" y="400.5"><tspan font-style="italic">P</tspan><tspan class="sub" dx="-2.0" dy="3">buy</tspan></text>
<rect x="629" y="410.6" width="24.8" height="10.4" fill="#91d04f"/>
<text class="lg" x="664.2" y="420.9"><tspan font-style="italic">P</tspan><tspan class="sub" dx="-2.0" dy="3">EES</tspan></text>
</g>
</svg>
</body></html>
